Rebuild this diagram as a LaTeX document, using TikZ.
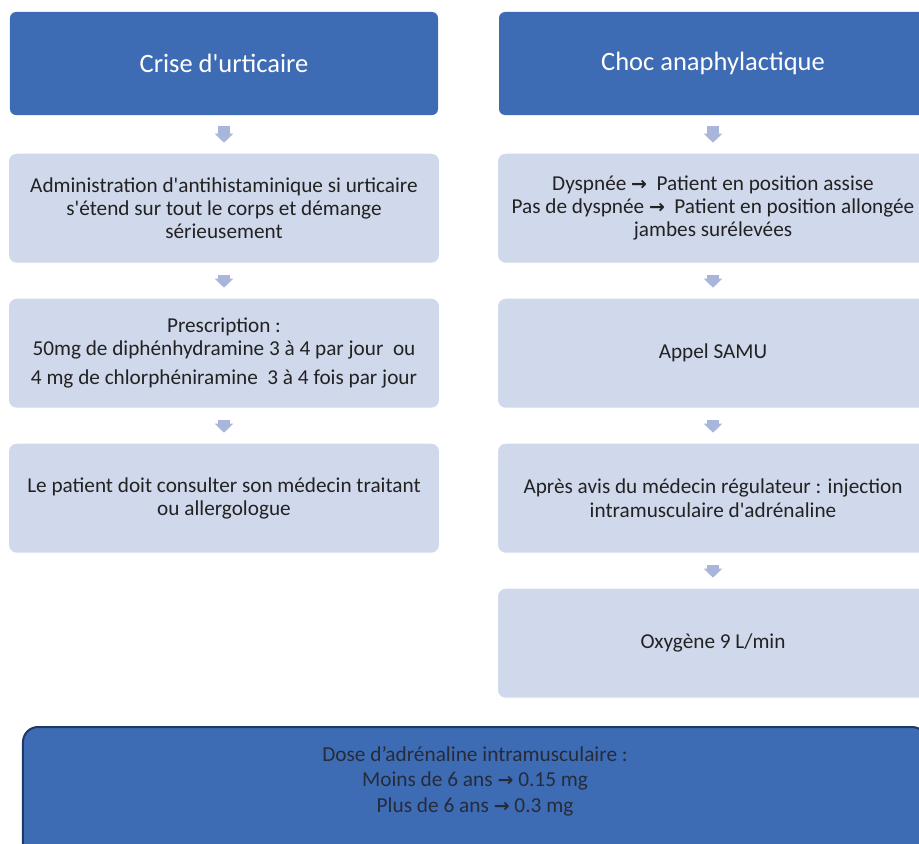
\documentclass[tikz,border=0pt]{standalone}
\usepackage{fontspec}
\newfontfamily\bodyfont{Carlito}
\newfontfamily\symfont{DejaVu Sans}
\usepackage{tikz}
\usetikzlibrary{positioning}
\usetikzlibrary{arrows.meta}
\definecolor{headblue}{HTML}{3D6CB5}
\definecolor{steplight}{HTML}{D0D8EB}
\definecolor{arrowblue}{HTML}{A8B6DB}
\definecolor{navy}{HTML}{1F3864}
\definecolor{textdark}{HTML}{222222}
\definecolor{dosetext}{HTML}{262B3A}
\newcommand{\fleche}{{\symfont\bfseries\fontsize{19}{19}\selectfont →}}
\tikzset{
  x=1bp,y=1bp,
  node distance=34bp,
  headbox/.style={shape=rectangle,rounded corners=6bp,fill=headblue,text=white,minimum width=428bp,minimum height=103bp,inner sep=0,font=\bodyfont\fontsize{26.6}{30}\selectfont},
  stepbox/.style={shape=rectangle,rounded corners=8bp,fill=steplight,draw=white,line width=1bp,minimum width=431bp,minimum height=110bp,inner sep=0,align=center,text=textdark,font=\bodyfont\fontsize{21.3}{23.3}\selectfont},
  dosebox/.style={shape=rectangle,rounded corners=15bp,fill=headblue,draw=navy,line width=2bp,minimum width=904bp,minimum height=132bp,inner sep=0},
  dosetxt/.style={align=center,text=dosetext,inner sep=0,font=\bodyfont\fontsize{21.4}{25.5}\selectfont},
  flow/.style={draw=arrowblue,line width=12bp,-{Triangle[width=18bp,length=9bp]},shorten <=11bp,shorten >=10bp}
}
\begin{document}
\begin{tikzpicture}
      \clip (0,0) rectangle (919,-844);
      \node[headbox] (urt) at (224,-63.5) {Crise d'urticaire};
      \node[stepbox,below=37.5bp of urt] (antih) {Administration d'antihistaminique si urticaire\\s'étend sur tout le corps et démange\\sérieusement};
      \node[stepbox,below=of antih] (presc) {Prescription :\\50mg de diphénhydramine 3 à 4 par jour\ \ ou\\[6bp]4 mg de chlorphéniramine\ \ 3 à 4 fois par jour};
      \node[stepbox,below=of presc] (consult) {Le patient doit consulter son médecin traitant\\ou allergologue};
      \node[headbox] (choc) at (713,-63.5) {Choc anaphylactique};
      \node[stepbox,below=37.5bp of choc] (pos) {Dyspnée \fleche\ \ Patient en position assise\\Pas de dyspnée \fleche\ \ Patient en position allongée\\jambes surélevées};
      \node[stepbox,below=of pos] (samu) {Appel SAMU};
      \node[stepbox,below=of samu] (inj) {Après avis du médecin régulateur : injection\\intramusculaire d'adrénaline};
      \node[stepbox,below=of inj] (oxy) {Oxygène 9 L/min};
      \node[dosebox,anchor=north] (dose) at (475,-726) {};
      \node[dosetxt] (dosetext) at ([yshift=12bp]dose.center) {Dose d’adrénaline intramusculaire :\\Moins de 6 ans \fleche\ 0.15 mg\\Plus de 6 ans \fleche\ 0.3 mg};
      \begin{scope}
        \draw[flow] (urt) -- (antih);
        \draw[flow] (antih) -- (presc);
        \draw[flow] (presc) -- (consult);
        \draw[flow] (choc) -- (pos);
        \draw[flow] (pos) -- (samu);
        \draw[flow] (samu) -- (inj);
        \draw[flow] (inj) -- (oxy);
      \end{scope}
    \end{tikzpicture}
\end{document}
